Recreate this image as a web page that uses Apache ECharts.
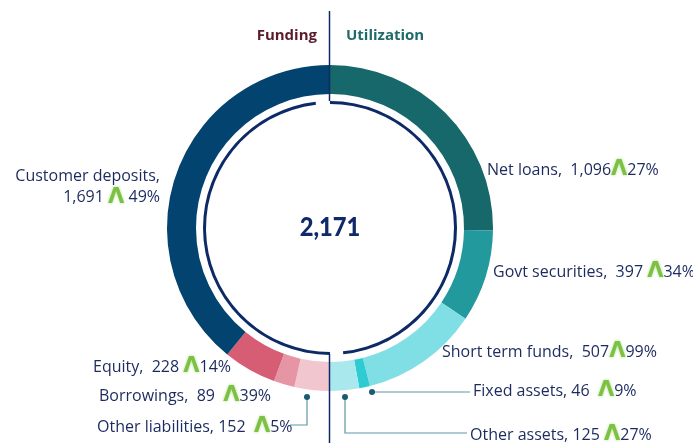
<!DOCTYPE html>
<html><head><meta charset="utf-8">
<script src="https://cdn.jsdelivr.net/npm/echarts@6/dist/echarts.min.js"></script>
<style>html,body{margin:0;padding:0;background:#fff}#c{width:693px;height:443px}</style>
</head><body><div id="c"></div>
<script>
// ---- data ----
const totalLabel = '2,171';
const headers = ['Funding', 'Utilization'];
const fundingNames = ['Other liabilities', 'Borrowings', 'Equity', 'Customer deposits'];
const fundingValues = [152, 89, 228, 1691];
const fundingGrowth = ['5%', '39%', '14%', '49%'];
const utilNames = ['Net loans', 'Govt securities', 'Short term funds', 'Fixed assets', 'Other assets'];
const utilValues = [1096, 397, 507, 46, 125];
const utilGrowth = ['27%', '34%', '99%', '9%', '27%'];

// ---- styles ----
const FONT = '"Open Sans"';
const TXT = '#1c2a5e';
const fundingColors = ['#f2c6cf', '#e595a3', '#d65d74', '#03436f'];
const utilColors = ['#17686a', '#22999d', '#80dee5', '#2ecbd3', '#a9e8ec'];
const C = [330, 228];

// label placement: [x, y, align, gapAfterComma, gapBeforeArrow, gapAfterArrow]
const fundingLayout = [
  [97, 427, 'left', ' ', '  ', ''],
  [99, 396, 'left', '  ', '  ', ''],
  [93, 367, 'left', '  ', ' ', ''],
  [160, 187, 'right', '\n', ' ', ' ']
];
const utilLayout = [
  [487, 170, 'left', '  ', '', ''],
  [493, 272, 'left', '  ', ' ', ''],
  [442, 352, 'left', '  ', '', ''],
  [473, 391, 'left', ' ', '  ', ''],
  [470, 435, 'left', ' ', ' ', '']
];

const fmt = v => v.toLocaleString('en-US');
function makeData(names, values, growth, colors, layout) {
  return names.map((n, i) => {
    const L = layout[i];
    return {
      name: n, value: values[i],
      itemStyle: { color: colors[i] },
      label: {
        show: true,
        formatter: '{t|' + n + ',' + L[3] + fmt(values[i]) + L[4] + '}{a|Λ}{t|' + L[5] + growth[i] + '}',
        align: L[2]
      }
    };
  });
}
const sum = a => a.reduce((s, v) => s + v, 0);
const richStyle = {
  t: { fontFamily: FONT, fontSize: 16, color: TXT, lineHeight: 21 },
  a: { fontFamily: 'DejaVu Sans', fontWeight: 'bold', fontSize: 21, color: '#7cc143', lineHeight: 21,
       textShadowColor: 'rgba(124,193,67,0.6)', textShadowBlur: 3 }
};
function pieSeries(names, values, growth, colors, layout, startAngle) {
  const data = makeData(names, values, growth, colors, layout);
  data.push({ value: sum(values), name: '', itemStyle: { color: 'rgba(0,0,0,0)' }, label: { show: false } });
  return {
    type: 'pie', center: C, radius: [134, 163], startAngle: startAngle, clockwise: true,
    silent: true, avoidLabelOverlap: false, animation: false,
    label: { show: true, rich: richStyle, color: TXT },
    labelLine: { show: false },
    labelLayout: function (p) {
      const L = layout[p.dataIndex];
      if (!L) return {};
      return { x: L[0], y: L[1], align: L[2], verticalAlign: 'middle' };
    },
    data: data
  };
}

const chart = echarts.init(document.getElementById('c'), null, { renderer: 'canvas' });
const NAVY = '#0d2a66';
const LEAD = '#5f95a6';
const DOT = '#1b5a72';
chart.setOption({
  animation: false,
  series: [
    pieSeries(utilNames, utilValues, utilGrowth, utilColors, utilLayout, 90),
    pieSeries(fundingNames, fundingValues, fundingGrowth, fundingColors, fundingLayout, -90),
    {
      type: 'pie', center: C, radius: [124, 127], startAngle: 90, clockwise: true, silent: true,
      label: { show: false }, labelLine: { show: false }, animation: false,
      data: [
        { value: 174, itemStyle: { color: NAVY } },
        { value: 6, itemStyle: { color: 'rgba(0,0,0,0)' } },
        { value: 173.5, itemStyle: { color: NAVY } },
        { value: 6.5, itemStyle: { color: 'rgba(0,0,0,0)' } }
      ]
    }
  ],
  graphic: [
    { type: 'line', z: 100, shape: { x1: 329.5, y1: 11, x2: 329.5, y2: 101 }, style: { stroke: NAVY, lineWidth: 1.5 } },
    { type: 'line', z: 100, shape: { x1: 329.5, y1: 354, x2: 329.5, y2: 443 }, style: { stroke: NAVY, lineWidth: 1.5 } },
    { type: 'text', x: 317, y: 36, style: { text: headers[0], font: 'bold 15px "Open Sans"', fill: '#5a1b2a', align: 'right', verticalAlign: 'middle' } },
    { type: 'text', x: 346, y: 36, style: { text: headers[1], font: 'bold 15px "Open Sans"', fill: '#1f6b6b', align: 'left', verticalAlign: 'middle' } },
    { type: 'text', x: 330, y: 227, scaleX: 0.88, style: { text: totalLabel, font: '900 27px Lato', fill: '#10296a', align: 'center', verticalAlign: 'middle' } },
    // leader lines
    { type: 'polyline', z: 50, shape: { points: [[372, 392], [470, 392]] }, style: { stroke: LEAD, lineWidth: 1.2, fill: null } },
    { type: 'polyline', z: 50, shape: { points: [[345, 397], [345, 433], [467, 433]] }, style: { stroke: LEAD, lineWidth: 1.2, fill: null } },
    { type: 'polyline', z: 50, shape: { points: [[307, 397], [307, 425], [290, 425]] }, style: { stroke: LEAD, lineWidth: 1.2, fill: null } },
    { type: 'circle', z: 51, shape: { cx: 372, cy: 392, r: 3 }, style: { fill: DOT } },
    { type: 'circle', z: 51, shape: { cx: 345, cy: 397, r: 3 }, style: { fill: DOT } },
    { type: 'circle', z: 51, shape: { cx: 307, cy: 397, r: 3 }, style: { fill: DOT } }
  ]
});
</script>
</body></html>
